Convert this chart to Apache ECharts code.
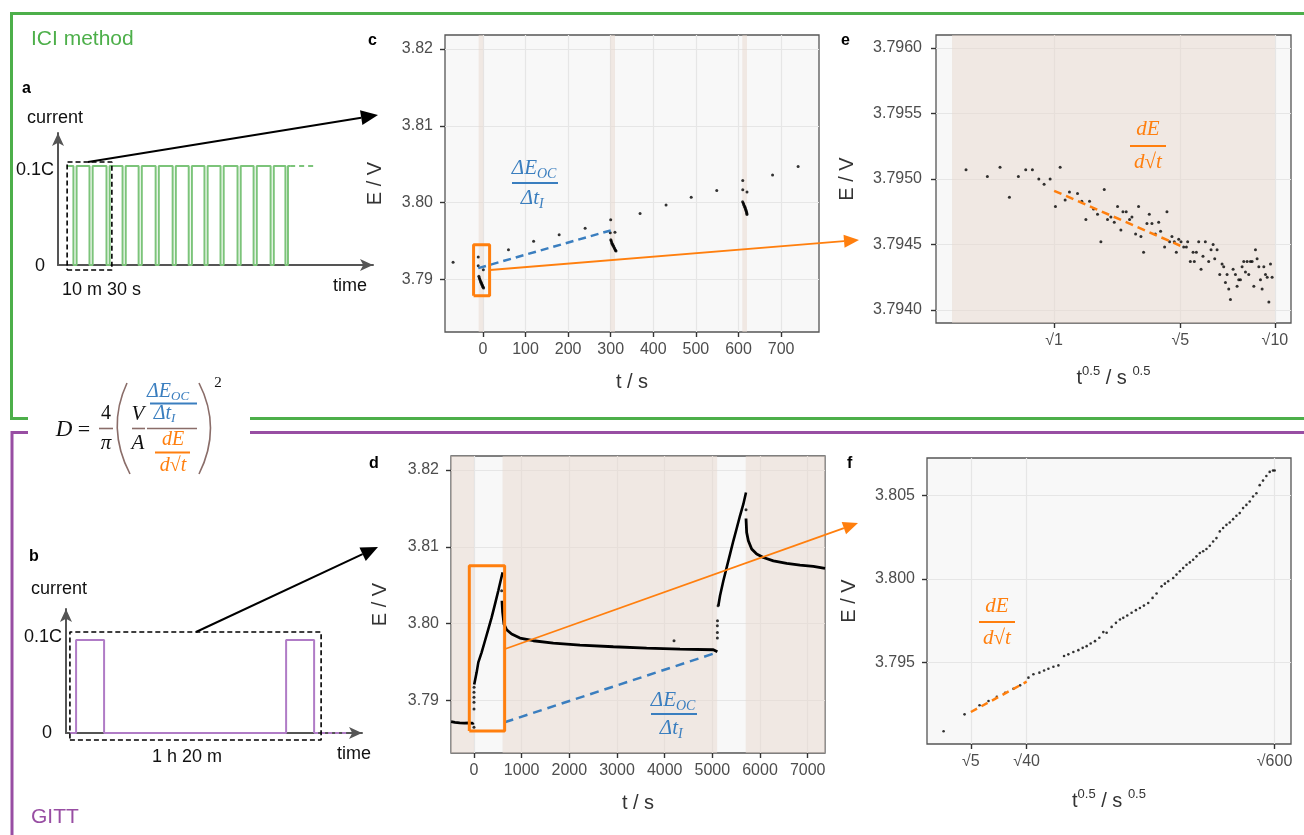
<!DOCTYPE html>
<html>
<head>
<meta charset="utf-8">
<title>ICI method vs GITT</title>
<script src="https://cdn.jsdelivr.net/npm/echarts@6/dist/echarts.min.js"></script>
<style>
  html, body { margin: 0; padding: 0; background: #fff; }
  #chart { width: 1304px; height: 835px; }
</style>
</head>
<body>
<div id="chart"></div>
<script>
// ---- panel a: ICI current schematic (time in min, current in C) ----
const iciStart = 2.8;
const iciDipStart = [4.9, 10.0, 15.4, 20.5, 25.6, 31.0, 36.4, 41.5, 46.5, 51.6, 57.0, 62.1, 67.5, 72.2];
const iciDipEnd = [5.9, 11.0, 16.4, 21.5, 26.6, 32.0, 37.4, 42.5, 47.5, 52.6, 58.0, 63.1, 68.5, 73.0];
const iciEnd = 73.7;
const iciTailEnd = 81.6;
const iciLevel = 0.1;
const aBoxT = [2.9, 17.1];
const aBoxI = [-0.005, 0.104];

// ---- panel b: GITT current schematic ----
const gittT = [1.4, 3.6, 3.6, 13.6, 13.6, 78.6, 78.6, 88.6, 88.6];
const gittI = [0, 0, 0.1, 0.1, 0, 0, 0.1, 0.1, 0];
const gittTail = [88.6, 100.4];
const bBoxT = [1.4, 91.1];
const bBoxI = [-0.0075, 0.1086];

// ---- panel c: ICI voltage vs time ----
const cT = [-70, -11, -11, 1,
  -9.5, -8.5, -7.5, -6.5, -5.5, -4.5, -3.5, -2.5, -1.5, -0.5, 0.5, 1.5,
  60, 119, 179, 240, 300, 299, 310,
  300.2, 301, 302, 303, 304, 305.5, 306.5, 308, 309, 310.5, 311.5, 312.5,
  369, 430, 489, 549, 610, 610, 620,
  609.7, 611, 612, 613, 614.4, 615.2, 616, 617, 617.6, 618.5, 619.1, 619.6, 619.9,
  680, 740];
const cE = [3.79225, 3.79294, 3.79182, 3.7913,
  3.79043, 3.79025, 3.79008, 3.78995, 3.7898, 3.78968, 3.78955, 3.7894, 3.78928, 3.78915, 3.78903, 3.78893,
  3.7939, 3.795, 3.79584, 3.7967, 3.7978, 3.7961, 3.79615,
  3.79519, 3.79505, 3.7949, 3.79475, 3.7946, 3.79446, 3.79433, 3.79418, 3.79405, 3.7939, 3.7938, 3.79372,
  3.7986, 3.7997, 3.8007, 3.8016, 3.8029, 3.8017, 3.8014,
  3.80013, 3.79998, 3.79983, 3.79968, 3.79952, 3.7994, 3.79926, 3.79912, 3.799, 3.79887, 3.79874, 3.7986, 3.79848,
  3.8036, 3.8047];
const cBands = [[-10, 1], [299, 310], [609, 620]];
const cFitT = [-11, 300];
const cFitE = [3.7915, 3.7964];
const cBoxT = [-21.9, 15.7];
const cBoxE = [3.78792, 3.79455];
const cTicks = [0, 100, 200, 300, 400, 500, 600, 700];
const vTicks = [3.79, 3.80, 3.81, 3.82];

// ---- panel d: GITT voltage vs time ----
const dRestT = [-480, -400, -300, -200, -100, -20, -5];
const dRestE = [3.78727, 3.78718, 3.78712, 3.78708, 3.78712, 3.78705, 3.78712];
const dSparseT = [0, 0, 0, 0, 0, 2, 580, 4196, 5105, 5105, 5105, 5108, 5120, 5706];
const dSparseE = [3.78654, 3.78892, 3.78978, 3.79043, 3.79108, 3.79173, 3.80429, 3.79779, 3.79814, 3.79887, 3.79974, 3.8004, 3.80234, 3.8148];
const dCharge1T = [5, 21, 56, 91, 161, 231, 301, 371, 441, 510, 559, 601];
const dCharge1E = [3.7921, 3.79216, 3.79368, 3.79498, 3.79628, 3.79779, 3.79931, 3.80082, 3.80255, 3.80429, 3.80558, 3.80667];
const dRelax1T = [587, 601, 629, 685, 790, 965, 1245, 1664, 2224, 2923, 3622, 4322, 5021, 5105];
const dRelax1E = [3.80299, 3.80147, 3.79996, 3.79922, 3.79866, 3.79814, 3.79779, 3.79749, 3.79723, 3.79701, 3.79684, 3.79671, 3.79662, 3.79636];
const dCharge2T = [5126, 5161, 5231, 5301, 5371, 5441, 5510, 5580, 5650, 5706];
const dCharge2E = [3.80234, 3.80364, 3.80558, 3.80732, 3.80905, 3.81078, 3.81238, 3.81403, 3.81554, 3.81706];
const dRelax2T = [5706, 5720, 5755, 5825, 5930, 6070, 6280, 6559, 6839, 7119, 7363];
const dRelax2E = [3.81368, 3.81186, 3.81078, 3.8097, 3.80905, 3.80861, 3.80818, 3.80784, 3.80762, 3.80745, 3.80719];
const dBands = [[-482, 0], [600, 5100], [5700, 7363]];
const dFitT = [643, 5105];
const dFitE = [3.78719, 3.79628];
const dBoxT = [-98, 643];
const dBoxE = [3.78606, 3.80753];
const dTicks = [0, 1000, 2000, 3000, 4000, 5000, 6000, 7000];

// ---- panel e: ICI pulse, E vs sqrt(t) ----
const eSqrtT = [0.137, 0.346, 0.47, 0.562, 0.65, 0.722, 0.787, 0.85, 0.902, 0.961, 1.059, 1.013, 1.108, 1.15, 1.229, 1.271,
  1.311, 1.347, 1.386, 1.425, 1.458, 1.491, 1.523, 1.556, 1.589, 1.621, 1.654, 1.674, 1.706, 1.739, 1.762, 1.798,
  1.827, 1.85, 1.876, 1.909, 1.932, 1.958, 1.991, 2.024, 2.043, 2.082, 2.105, 2.131, 2.154, 2.177, 2.197, 2.22,
  2.243, 2.269, 2.295, 2.308, 2.334, 2.361, 2.373, 2.393, 2.416, 2.439, 2.458, 2.481, 2.514, 2.537, 2.557, 2.573,
  2.596, 2.622, 2.645, 2.661, 2.678, 2.694, 2.71, 2.727, 2.753, 2.776, 2.792, 2.808, 2.825, 2.841, 2.857, 2.874,
  2.89, 2.906, 2.923, 2.939, 2.956, 2.972, 2.988, 3.005, 3.021, 3.037, 3.054, 3.07, 3.087, 3.103, 3.119, 3.135];
const eE = [3.79507, 3.79502, 3.79509, 3.79486, 3.79502, 3.79507, 3.79507, 3.795, 3.79496, 3.795, 3.79509, 3.79479, 3.79484, 3.7949, 3.79489, 3.79483,
  3.79469, 3.79483, 3.79477, 3.79473, 3.79452, 3.79492, 3.79469, 3.79471, 3.79467, 3.79479, 3.79461, 3.79475, 3.79475, 3.79469, 3.79471, 3.79458,
  3.79479, 3.79456, 3.79444, 3.79466, 3.79473, 3.79466, 3.79458, 3.79467, 3.7946, 3.79448, 3.79475, 3.79452, 3.79456, 3.79452, 3.79444, 3.79454,
  3.79452, 3.79448, 3.79448, 3.79452, 3.79437, 3.79444, 3.79437, 3.79444, 3.79452, 3.79431, 3.79441, 3.79452, 3.79437, 3.79446, 3.7945, 3.79439,
  3.79446, 3.79427, 3.79435, 3.79433, 3.79421, 3.79427, 3.79416, 3.79408, 3.79431, 3.79427, 3.79418, 3.79423, 3.79423, 3.79433, 3.79437, 3.79429,
  3.79437, 3.79427, 3.79437, 3.79437, 3.79418, 3.79446, 3.79439, 3.79433, 3.79423, 3.79416, 3.79433, 3.79427, 3.79425, 3.79406, 3.79435, 3.79425];
const eBands = [[0, 3.1623]];
const eFitX = [1.0, 2.236];
const eFitE = [3.79491, 3.79449];
const eTickSeconds = [1, 5, 10];
const eTicksE = [3.7940, 3.7945, 3.7950, 3.7955, 3.7960];

// ---- panel f: GITT pulse, E vs sqrt(t) ----
const fSqrtT = [0.236, 1.773, 2.87, 3.529, 4.138, 4.748, 5.358, 5.846, 6.456, 6.821, 7.26, 7.602, 7.919, 8.285, 8.651,
  9.065, 9.382, 9.748, 10.114, 10.431, 10.724, 11.017, 11.334, 11.651, 11.943, 12.187, 12.553, 12.87, 13.163, 13.407,
  13.699, 14.016, 14.333, 14.626, 14.919, 15.236, 15.553, 15.846, 16.212, 16.456, 16.699, 17.065, 17.309, 17.553, 17.797,
  18.041, 18.285, 18.529, 18.773, 19.016, 19.26, 19.504, 19.748, 19.992, 20.236, 20.48, 20.724, 20.968, 21.211, 21.455,
  21.699, 21.943, 22.187, 22.431, 22.675, 22.919, 23.163, 23.406, 23.65, 23.894, 24.138, 24.382, 24.504];
const fE = [3.79091, 3.79192, 3.79246, 3.79272, 3.79296, 3.79321, 3.79345, 3.79365, 3.79411, 3.79431, 3.79441, 3.79454, 3.79464, 3.79476, 3.79484,
  3.7954, 3.7955, 3.79564, 3.79575, 3.79589, 3.79599, 3.79615, 3.79629, 3.79649, 3.79683, 3.79679, 3.79714, 3.79738, 3.79758, 3.79768,
  3.79782, 3.79798, 3.79814, 3.79827, 3.79841, 3.79857, 3.79887, 3.79913, 3.79956, 3.79972, 3.79986, 3.80006, 3.80026, 3.80046, 3.80065,
  3.80085, 3.80099, 3.80115, 3.80135, 3.80155, 3.80165, 3.80179, 3.80198, 3.80224, 3.80244, 3.80284, 3.80304, 3.80323, 3.80337, 3.80357,
  3.80377, 3.80393, 3.80423, 3.80442, 3.80462, 3.80492, 3.80512, 3.8056, 3.80587, 3.80615, 3.80639, 3.80647, 3.80647];
const fFitX = [2.236, 6.325];
const fFitE = [3.79206, 3.79387];
const fTickSeconds = [5, 40, 600];
const fTicksE = [3.795, 3.800, 3.805];

// ---------------------------------------------------------------
const FONT = '"Liberation Sans", Arial, Helvetica, sans-serif';
const MATH = '"Liberation Serif", "DejaVu Serif", serif';
const GREEN = '#4daf4a';
const PURPLE = '#984ea3';
const ORANGE = '#ff7f0e';
const BLUE = '#3a7ebf';
const BROWN = '#8a6d69';
const BAND = 'rgba(231,215,205,0.5)';

function pairs(xs, ys) { return xs.map((x, i) => [x, ys[i]]); }
function box(xs, ys) {
    return [[xs[0], ys[0]], [xs[1], ys[0]], [xs[1], ys[1]], [xs[0], ys[1]], [xs[0], ys[0]]];
}

function plotGrid(left, top, width, height) {
    return { left, top, width, height, show: true, backgroundColor: '#f8f8f8', borderColor: '#555', borderWidth: 1.3 };
}
function schemGrid(left, top, width, height) {
    return { left, top, width, height, show: false };
}

function plotAxis(gi, min, max, ticks, fmt, name, nameGap, margin, rich) {
    return {
        type: 'value', gridIndex: gi, min, max,
        axisLine: { show: false, onZero: false },
        axisTick: { show: true, length: 5, customValues: ticks, lineStyle: { color: '#333', width: 1.4 } },
        axisLabel: { customValues: ticks, formatter: fmt, fontSize: 16, color: '#4d4d4d', fontFamily: FONT, margin },
        splitLine: { show: true, lineStyle: { color: '#e6e6e6', width: 1.2 } },
        name, nameLocation: 'middle', nameGap,
        nameTextStyle: { fontSize: 20, color: '#333', fontFamily: FONT, rich }
    };
}
function schemAxis(gi, min, max) {
    return {
        type: 'value', gridIndex: gi, min, max,
        axisLine: { show: true, onZero: false, symbol: ['none', 'arrow'], symbolSize: [9, 13], lineStyle: { color: '#555', width: 2 } },
        axisTick: { show: false }, axisLabel: { show: false }, splitLine: { show: false }
    };
}

const sqrtFmt = v => '√' + Math.round(v * v);
const supRich = {
    b: { fontSize: 20, color: '#333', fontFamily: FONT, lineHeight: 26 },
    sup: { fontSize: 13, color: '#333', fontFamily: FONT, verticalAlign: 'top', lineHeight: 14 }
};
const sqrtName = '{b|t}{sup|0.5}{b| / s }{sup|0.5}';

function scatter(xi, xs, ys, size, bands) {
    const s = {
        type: 'scatter', xAxisIndex: xi, yAxisIndex: xi, data: pairs(xs, ys),
        symbolSize: size, itemStyle: { color: '#000' }, silent: true
    };
    if (bands) {
        s.markArea = {
            silent: true, itemStyle: { color: BAND },
            data: bands.map(b => [{ xAxis: b[0] }, { xAxis: b[1] }])
        };
    }
    return s;
}
function line(xi, data, color, width, type, clip) {
    return {
        type: 'line', xAxisIndex: xi, yAxisIndex: xi, data, showSymbol: false, symbol: 'none',
        clip: clip !== false, silent: true, z: 3,
        lineStyle: { color, width, type: type || 'solid', cap: 'butt' }
    };
}

// ICI step waveform from the dip list
const iciWave = [[iciStart, iciLevel]];
iciDipStart.forEach((s, i) => {
    iciWave.push([s, iciLevel], [s, 0], [iciDipEnd[i], 0], [iciDipEnd[i], iciLevel]);
});
iciWave.push([iciEnd, iciLevel]);

// ---- graphic helpers ----
function text(x, y, t, size, color, extra) {
    return {
        type: 'text', x, y, z: 50, silent: true,
        style: Object.assign({ text: t, fontSize: size, fontFamily: FONT, fill: color, align: 'left', verticalAlign: 'middle' }, extra || {})
    };
}
function mtext(x, y, t, size, color, align) {
    return text(x, y, t, size, color, { fontFamily: MATH, fontStyle: 'italic', align: align || 'center' });
}
function hline(x1, x2, y, color, w) {
    return { type: 'line', z: 50, silent: true, shape: { x1, y1: y, x2, y2: y }, style: { stroke: color, lineWidth: w || 2 } };
}
function arrow(x1, y1, x2, y2, color, width, headLen, headW) {
    const ang = Math.atan2(y2 - y1, x2 - x1);
    const bx = x2 - headLen * Math.cos(ang), by = y2 - headLen * Math.sin(ang);
    const px = -Math.sin(ang) * headW / 2, py = Math.cos(ang) * headW / 2;
    return [
        { type: 'line', z: 60, silent: true, shape: { x1, y1, x2: bx, y2: by }, style: { stroke: color, lineWidth: width } },
        { type: 'polygon', z: 60, silent: true, shape: { points: [[x2, y2], [bx + px, by + py], [bx - px, by - py]] }, style: { fill: color } }
    ];
}
// fraction dE_OC / dt_I
function ocFraction(cx, yNum, yLine, yDen, halfW, color) {
    return [
        mtext(cx + 2, yNum, 'ΔE', 21, color, 'right'),
        mtext(cx + 2, yNum + 6, 'OC', 14, color, 'left'),
        hline(cx - halfW, cx + halfW, yLine, color, 2.2),
        mtext(cx + 4, yDen, 'Δt', 21, color, 'right'),
        mtext(cx + 4, yDen + 6, 'I', 14, color, 'left')
    ];
}
function dsqrtFraction(cx, yNum, yLine, yDen, halfW, color) {
    return [
        mtext(cx, yNum, 'dE', 21, color),
        hline(cx - halfW, cx + halfW, yLine, color, 2.2),
        mtext(cx, yDen, 'd√t', 21, color)
    ];
}

const graphics = [
    // frames
    { type: 'polyline', z: 1, silent: true, shape: { points: [[28, 418.5], [11.5, 418.5], [11.5, 13.5], [1304, 13.5]] }, style: { stroke: GREEN, lineWidth: 3, fill: null } },
    { type: 'line', z: 1, silent: true, shape: { x1: 250, y1: 418.5, x2: 1304, y2: 418.5 }, style: { stroke: GREEN, lineWidth: 3 } },
    { type: 'polyline', z: 1, silent: true, shape: { points: [[28, 432.5], [12, 432.5], [12, 835]] }, style: { stroke: PURPLE, lineWidth: 3, fill: null } },
    { type: 'line', z: 1, silent: true, shape: { x1: 250, y1: 432.5, x2: 1304, y2: 432.5 }, style: { stroke: PURPLE, lineWidth: 3 } },
    text(31, 39, 'ICI method', 21, GREEN),
    text(31, 817, 'GITT', 21, PURPLE),
    // panel letters
    text(22, 89, 'a', 16, '#000', { fontWeight: 'bold' }),
    text(29, 557, 'b', 16, '#000', { fontWeight: 'bold' }),
    text(368, 41, 'c', 16, '#000', { fontWeight: 'bold' }),
    text(369, 464, 'd', 16, '#000', { fontWeight: 'bold' }),
    text(841, 41, 'e', 16, '#000', { fontWeight: 'bold' }),
    text(847, 464, 'f', 16, '#000', { fontWeight: 'bold' }),
    // schematic labels
    text(55, 118, 'current', 18, '#111', { align: 'center' }),
    text(54, 170, '0.1C', 18, '#111', { align: 'right' }),
    text(45, 266, '0', 18, '#111', { align: 'right' }),
    text(62, 290, '10 m 30 s', 18, '#111'),
    text(333, 286, 'time', 18, '#111'),
    text(59, 589, 'current', 18, '#111', { align: 'center' }),
    text(62, 637, '0.1C', 18, '#111', { align: 'right' }),
    text(52, 733, '0', 18, '#111', { align: 'right' }),
    text(187, 757, '1 h 20 m', 18, '#111', { align: 'center' }),
    text(337, 754, 'time', 18, '#111'),
    // formula D = 4/pi (V/A (dEoc/dtI)/(dE/dsqrt t))^2
    mtext(64, 430, 'D', 23, '#111'),
    text(84, 430, '=', 22, '#111', { fontFamily: MATH, align: 'center' }),
    text(106, 414, '4', 20, '#111', { fontFamily: MATH, align: 'center' }),
    hline(99, 113, 428.5, BROWN, 1.6),
    mtext(106, 443, 'π', 21, '#111'),
    { type: 'bezierCurve', z: 50, silent: true, shape: { x1: 127, y1: 383, cpx1: 106, cpy1: 428, x2: 130, y2: 474 }, style: { stroke: BROWN, lineWidth: 1.6, fill: null } },
    { type: 'bezierCurve', z: 50, silent: true, shape: { x1: 199, y1: 383, cpx1: 222, cpy1: 428, x2: 199, y2: 474 }, style: { stroke: BROWN, lineWidth: 1.6, fill: null } },
    mtext(138, 414, 'V', 21, '#111'),
    hline(132, 145, 428.5, BROWN, 1.6),
    mtext(138, 443, 'A', 21, '#111'),
    hline(147, 197, 428.5, BROWN, 1.6),
    mtext(171, 392, 'ΔE', 20, BLUE, 'right'),
    mtext(171, 397, 'OC', 13, BLUE, 'left'),
    hline(150, 197, 403.5, BLUE, 2),
    mtext(171, 414, 'Δt', 20, BLUE, 'right'),
    mtext(171, 419, 'I', 13, BLUE, 'left'),
    mtext(173, 440, 'dE', 20, ORANGE),
    hline(155, 190, 452.5, ORANGE, 2),
    mtext(173, 466, 'd√t', 20, ORANGE),
    text(218, 383, '2', 15, '#111', { fontFamily: MATH, align: 'center' })
]
    .concat(ocFraction(535, 168, 183, 198, 23, BLUE))
    .concat(ocFraction(674, 700, 714, 728, 23, BLUE))
    .concat(dsqrtFraction(1148, 129, 146, 162, 18, ORANGE))
    .concat(dsqrtFraction(997, 606, 622, 638, 18, ORANGE))
    .concat(arrow(88, 162, 378, 115, '#000', 2, 17, 15))
    .concat(arrow(196, 632, 378, 547, '#000', 2, 17, 15))
    .concat(arrow(490, 270, 859, 240, ORANGE, 1.8, 15, 13))
    .concat(arrow(505, 649, 858, 523, ORANGE, 1.8, 15, 13));

const chart = echarts.init(document.getElementById('chart'));

chart.setOption({
    animation: false,
    backgroundColor: '#fff',
    grid: [
        schemGrid(58, 133, 315, 132),        // a
        schemGrid(66, 609, 296, 124),        // b
        plotGrid(445, 35, 374, 297),         // c
        plotGrid(451, 456, 374, 297),        // d
        plotGrid(936, 35, 355, 288),         // e
        plotGrid(927, 458, 364, 286)         // f
    ],
    xAxis: [
        schemAxis(0, 0, 100),
        schemAxis(1, 0, 105.7),
        plotAxis(2, -89, 789, cTicks, v => String(v), 't / s', 40, 10),
        plotAxis(3, -482, 7363, dTicks, v => String(v), 't / s', 40, 10),
        plotAxis(4, -0.157, 3.32, eTickSeconds.map(Math.sqrt), sqrtFmt, sqrtName, 42, 10, supRich),
        plotAxis(5, -0.98, 25.7, fTickSeconds.map(Math.sqrt), sqrtFmt, sqrtName, 44, 10, supRich)
    ],
    yAxis: [
        schemAxis(0, 0, 0.1333),
        schemAxis(1, 0, 0.1333),
        plotAxis(2, 3.7832, 3.8218, vTicks, v => v.toFixed(2), 'E / V', 60, 12),
        plotAxis(3, 3.7832, 3.8218, vTicks, v => v.toFixed(2), 'E / V', 61, 12),
        plotAxis(4, 3.7939, 3.7961, eTicksE, v => v.toFixed(4), 'E / V', 79, 14),
        plotAxis(5, 3.79015, 3.80722, fTicksE, v => v.toFixed(3), 'E / V', 68, 12)
    ],
    graphic: graphics,
    series: [
        // a
        line(0, iciWave, '#7cc47a', 2),
        line(0, [[iciEnd, iciLevel], [iciTailEnd, iciLevel]], '#7cc47a', 2, [5, 4]),
        line(0, box(aBoxT, aBoxI), '#000', 1.6, [5, 3], false),
        // b
        line(1, pairs(gittT, gittI), '#b07cc6', 2),
        line(1, [[gittTail[0], 0], [gittTail[1], 0]], '#b07cc6', 2, [4, 3]),
        line(1, box(bBoxT, bBoxI), '#000', 1.6, [5, 3], false),
        // c
        scatter(2, cT, cE, 3, cBands),
        line(2, pairs(cFitT, cFitE), BLUE, 2.5, [8, 5]),
        line(2, box(cBoxT, cBoxE), ORANGE, 3, 'solid', false),
        // d
        scatter(3, dSparseT, dSparseE, 3, dBands),
        line(3, pairs(dRestT, dRestE), '#000', 2.8),
        line(3, pairs(dCharge1T, dCharge1E), '#000', 2.6),
        line(3, pairs(dRelax1T, dRelax1E), '#000', 2.8),
        line(3, pairs(dCharge2T, dCharge2E), '#000', 2.6),
        line(3, pairs(dRelax2T, dRelax2E), '#000', 2.8),
        line(3, pairs(dFitT, dFitE), BLUE, 2.5, [9, 6]),
        line(3, box(dBoxT, dBoxE), ORANGE, 3, 'solid', false),
        // e
        scatter(4, eSqrtT, eE, 3, eBands),
        line(4, pairs(eFitX, eFitE), ORANGE, 2.5, [8, 5]),
        // f
        scatter(5, fSqrtT, fE, 2.6),
        line(5, pairs(fFitX, fFitE), ORANGE, 2.5, [7, 5])
    ]
});
</script>
</body>
</html>
